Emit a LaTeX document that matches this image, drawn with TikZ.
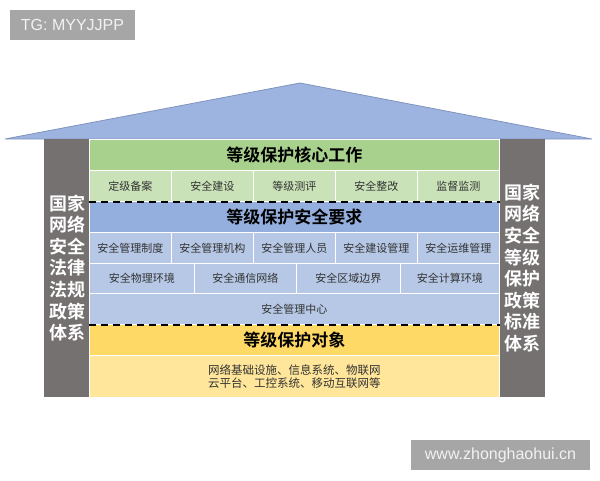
\documentclass[tikz,border=0pt]{standalone}
\usepackage{fontspec}
\newfontfamily\cjk{Noto Sans CJK SC}
\newfontfamily\cjkb{Noto Sans CJK SC Bold}
\newfontfamily\arialf{Liberation Sans}
\definecolor{roofc}{HTML}{9DB4E1}
\definecolor{roofl}{HTML}{7F93BD}
\definecolor{greenh}{HTML}{A9D18E}
\definecolor{greeni}{HTML}{C9E2B8}
\definecolor{blueh}{HTML}{94AEDD}
\definecolor{bluei}{HTML}{B6C8E6}
\definecolor{yellowh}{HTML}{FFD966}
\definecolor{yellowi}{HTML}{FFE69A}
\definecolor{pillarc}{HTML}{757171}
\definecolor{wmc}{HTML}{A6A6A6}
\definecolor{itemtext}{HTML}{333333}
\tikzset{
  cellbox/.style={draw=white, line width=0.8pt, inner sep=0pt, anchor=north west},
  header/.style={cellbox, font=\cjkb\fontsize{17}{20}\selectfont, text=black},
  item/.style={cellbox, font=\cjk\fontsize{11}{13}\selectfont, text=itemtext},
  pillar/.style={fill=pillarc, inner sep=0pt, anchor=north west, minimum width=45pt, minimum height=258pt},
  pillartext/.style={font=\cjkb\fontsize{18}{21.6}\selectfont, text=white, align=center, inner sep=0pt},
  sepline/.style={line width=2pt, dash pattern=on 7pt off 5pt, black},
  wm/.style={fill=wmc, text=white!95!black, font=\arialf\fontsize{16}{18}\selectfont, inner sep=0pt}
}
\begin{document}
\begin{tikzpicture}[x=1pt,y=-1pt]
\useasboundingbox (0,0) rectangle (600,480);
% roof
\draw[fill=roofc, draw=roofl, line width=0.8pt] (5,139) -- (300,83) -- (592,139) -- cycle;
% pillars
\node[pillar] (lp) at (44,139) {};
\node[pillar, minimum width=46pt] (rp) at (499,139) {};
\node[pillartext] (lpt) at (67,268) {国家\\网络\\安全\\法律\\法规\\政策\\体系};
\node[pillartext] (rpt) at (522,268) {国家\\网络\\安全\\等级\\保护\\政策\\标准\\体系};
% green
\node[header, fill=greenh, minimum width=410pt, minimum height=31pt] (gh) at (89,139) {等级保护核心工作};
\node[item, fill=greeni, minimum width=82pt, minimum height=31pt] (g1) at (89,170) {定级备案};
\node[item, fill=greeni, minimum width=82pt, minimum height=31pt] (g2) at (171,170) {安全建设};
\node[item, fill=greeni, minimum width=82pt, minimum height=31pt] (g3) at (253,170) {等级测评};
\node[item, fill=greeni, minimum width=82pt, minimum height=31pt] (g4) at (335,170) {安全整改};
\node[item, fill=greeni, minimum width=82pt, minimum height=31pt] (g5) at (417,170) {监督监测};
% blue
\node[header, fill=blueh, minimum width=410pt, minimum height=31pt] (bh) at (89,201) {等级保护安全要求};
\node[item, fill=bluei, minimum width=82pt, minimum height=31pt] (b1) at (89,232) {安全管理制度};
\node[item, fill=bluei, minimum width=82pt, minimum height=31pt] (b2) at (171,232) {安全管理机构};
\node[item, fill=bluei, minimum width=82pt, minimum height=31pt] (b3) at (253,232) {安全管理人员};
\node[item, fill=bluei, minimum width=82pt, minimum height=31pt] (b4) at (335,232) {安全建设管理};
\node[item, fill=bluei, minimum width=82pt, minimum height=31pt] (b5) at (417,232) {安全运维管理};
\node[item, fill=bluei, minimum width=105pt, minimum height=30pt] (c1) at (89,263) {安全物理环境};
\node[item, fill=bluei, minimum width=102pt, minimum height=30pt] (c2) at (194,263) {安全通信网络};
\node[item, fill=bluei, minimum width=104pt, minimum height=30pt] (c3) at (296,263) {安全区域边界};
\node[item, fill=bluei, minimum width=99pt, minimum height=30pt] (c4) at (400,263) {安全计算环境};
\node[item, fill=bluei, minimum width=410pt, minimum height=31pt] (d1) at (89,293) {安全管理中心};
% yellow
\node[header, fill=yellowh, minimum width=410pt, minimum height=31pt] (yh) at (89,324) {等级保护对象};
\node[item, fill=yellowi, minimum width=410pt, minimum height=42pt, align=left, font=\cjk\fontsize{11.5}{13}\selectfont] (yc) at (89,355) {网络基础设施、信息系统、物联网\\云平台、工控系统、移动互联网等};
% dashed separators
\draw[sepline] (g1.south west) -- (g5.south east);
\draw[sepline] (d1.south west) -- (d1.south east);
% watermarks
\node[wm, minimum width=125pt, minimum height=30pt] (tg) at (72.5,25) {TG: MYYJJPP};
\node[wm, minimum width=179pt, minimum height=30pt] (www) at (500.5,455) {www.zhonghaohui.cn};
\end{tikzpicture}
\end{document}
